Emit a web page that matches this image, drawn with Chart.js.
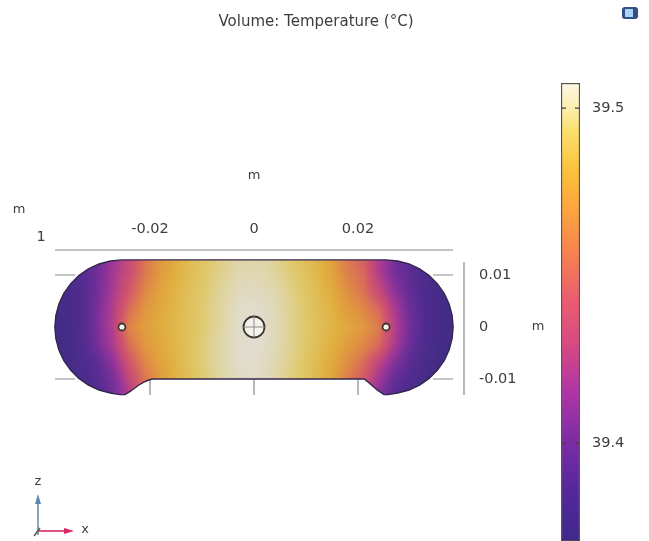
<!DOCTYPE html>
<html>
<head>
<meta charset="utf-8">
<style>
  html, body { margin: 0; padding: 0; background: #fff; }
  #wrap { position: relative; width: 649px; height: 541px; overflow: hidden; }
  canvas { position: absolute; top: 0; filter: blur(0.6px); }
  #fieldChart { left: 0; }
  #barChart { left: 540px; }
</style>
<script src="https://cdn.jsdelivr.net/npm/chart.js@4/dist/chart.umd.min.js"></script>
</head>
<body>
<div id="wrap">
  <canvas id="fieldChart" width="577" height="541"></canvas>
  <canvas id="barChart" width="109" height="562"></canvas>
</div>
<script>
const chartTitle = "Volume: Temperature (°C)";
const axisUnit = "m";
const xTicks = [-0.02, 0, 0.02];
const yTicks = [-0.01, 0, 0.01];
const tempTicks = [39.4, 39.5];

// grid the temperatures were read on, metres
const gridX = [-0.039, -0.036, -0.033, -0.03, -0.027, -0.024, -0.021, -0.018, -0.015, -0.012, -0.009, -0.006, -0.003, 0,
  0.003, 0.006, 0.009, 0.012, 0.015, 0.018, 0.021, 0.024, 0.027, 0.03, 0.033, 0.036, 0.039];
const gridY = [0.014, 0.0105, 0.007, 0.0035, 0, -0.0035, -0.007, -0.0105, -0.014];

// temperature in deg C, one row per gridY
const temps = [
  [39.384, 39.384, 39.388, 39.398, 39.414, 39.432, 39.455, 39.471, 39.481, 39.488, 39.493, 39.497, 39.500, 39.501, 39.499, 39.495, 39.490, 39.484, 39.474, 39.456, 39.445, 39.420, 39.400, 39.390, 39.380, 39.376, 39.374],
  [39.382, 39.382, 39.388, 39.400, 39.418, 39.435, 39.457, 39.472, 39.482, 39.489, 39.494, 39.498, 39.502, 39.503, 39.501, 39.497, 39.492, 39.486, 39.476, 39.460, 39.450, 39.422, 39.402, 39.390, 39.380, 39.376, 39.374],
  [39.378, 39.378, 39.386, 39.400, 39.420, 39.442, 39.463, 39.476, 39.484, 39.490, 39.495, 39.500, 39.504, 39.505, 39.503, 39.499, 39.494, 39.488, 39.480, 39.467, 39.455, 39.432, 39.410, 39.393, 39.382, 39.375, 39.372],
  [39.374, 39.377, 39.386, 39.403, 39.424, 39.452, 39.470, 39.479, 39.485, 39.491, 39.496, 39.501, 39.506, 39.507, 39.505, 39.500, 39.495, 39.489, 39.483, 39.473, 39.464, 39.450, 39.420, 39.397, 39.384, 39.375, 39.372],
  [39.374, 39.376, 39.385, 39.404, 39.425, 39.462, 39.474, 39.480, 39.486, 39.491, 39.496, 39.501, 39.506, 39.5075, 39.505, 39.500, 39.495, 39.490, 39.484, 39.478, 39.471, 39.458, 39.425, 39.400, 39.384, 39.376, 39.372],
  [39.373, 39.376, 39.384, 39.401, 39.421, 39.452, 39.470, 39.479, 39.485, 39.491, 39.497, 39.502, 39.506, 39.5075, 39.505, 39.500, 39.495, 39.489, 39.482, 39.473, 39.464, 39.450, 39.420, 39.396, 39.382, 39.374, 39.372],
  [39.372, 39.376, 39.382, 39.392, 39.410, 39.440, 39.462, 39.476, 39.484, 39.491, 39.497, 39.502, 39.506, 39.507, 39.504, 39.499, 39.494, 39.487, 39.479, 39.466, 39.452, 39.428, 39.405, 39.390, 39.379, 39.374, 39.372],
  [39.372, 39.374, 39.380, 39.388, 39.402, 39.428, 39.455, 39.472, 39.483, 39.490, 39.496, 39.501, 39.505, 39.506, 39.503, 39.498, 39.493, 39.486, 39.476, 39.458, 39.442, 39.414, 39.394, 39.384, 39.376, 39.373, 39.372],
  [39.372, 39.374, 39.378, 39.385, 39.398, 39.420, 39.448, 39.468, 39.481, 39.489, 39.495, 39.500, 39.504, 39.505, 39.502, 39.497, 39.492, 39.484, 39.472, 39.452, 39.434, 39.404, 39.388, 39.380, 39.375, 39.373, 39.372]
];

// boundary of the part, metres
const outlineX = [-0.0254, -0.02764, -0.02981, -0.03185, -0.03369, -0.03528, -0.03657, -0.03752, -0.0381, -0.0383,
  -0.0381, -0.03752, -0.03657, -0.03528, -0.03369, -0.03185, -0.02981, -0.02764, -0.0258, -0.0248, -0.0238, -0.0222, -0.0212, -0.0202, -0.0196, -0.0190,
  0.0206, 0.0212, 0.0222, 0.0238, 0.0250, 0.0258,
  0.02764, 0.02981, 0.03185, 0.03369, 0.03528, 0.03657, 0.03752, 0.0381, 0.0383,
  0.0381, 0.03752, 0.03657, 0.03528, 0.03369, 0.03185, 0.02981, 0.02764, 0.0254, -0.0254];
const outlineY = [0.0129, 0.0127, 0.01212, 0.01117, 0.00988, 0.00829, 0.00645, 0.00441, 0.00224, 0,
  -0.00224, -0.00441, -0.00645, -0.00829, -0.00988, -0.01117, -0.01212, -0.0127, -0.0130, -0.0130, -0.0124, -0.0112, -0.0106, -0.0102, -0.0100, -0.0100,
  -0.0100, -0.0100, -0.0108, -0.0122, -0.0130, -0.0130,
  -0.0127, -0.01212, -0.01117, -0.00988, -0.00829, -0.00645, -0.00441, -0.00224, 0,
  0.00224, 0.00441, 0.00645, 0.00829, 0.00988, 0.01117, 0.01212, 0.0127, 0.0129, 0.0129];

const holeX = [-0.0254, 0, 0.0254];
const holeY = [0, 0, 0];
const holeRadius = [3.5, 10.5, 3.5];

// colour bar stops
const rampTemps = [39.3707, 39.374, 39.386, 39.400, 39.4155, 39.4305, 39.4425, 39.4575, 39.4695, 39.4815, 39.4935, 39.500, 39.5075];
const rampColors = ["#41278c", "#43288f", "#55289c", "#7a2ca5", "#b035a5", "#d94b80", "#ea5c70", "#f7844f", "#fca43e", "#fcc23c", "#fbe06e", "#fbeeae", "#fdf8e8"];

const textColor = "#3d3d3d";
const axisColor = "#8a8a8a";
const fontName = "'DejaVu Sans'";

const hexToRgb = (hex) => [1, 3, 5].map((i) => parseInt(hex.slice(i, i + 2), 16));

const colorForTemp = (t) => {
  let i = 0;
  while (i < rampTemps.length - 2 && t > rampTemps[i + 1]) i++;
  const f = Math.min(1, Math.max(0, (t - rampTemps[i]) / (rampTemps[i + 1] - rampTemps[i])));
  const a = hexToRgb(rampColors[i]);
  const b = hexToRgb(rampColors[i + 1]);
  return a.map((v, k) => Math.round(v + (b[k] - v) * f));
};

// index of the grid interval holding v, list may run either way
const gridSlot = (list, v) => {
  const sign = list[1] > list[0] ? 1 : -1;
  let i = 0;
  while (i < list.length - 2 && sign * v > sign * list[i + 1]) i++;
  const f = Math.min(1, Math.max(0, (v - list[i]) / (list[i + 1] - list[i])));
  return [i, f];
};

const tempAt = (x, y) => {
  const [c, fx] = gridSlot(gridX, x);
  const [r, fy] = gridSlot(gridY, y);
  const top = temps[r][c] * (1 - fx) + temps[r][c + 1] * fx;
  const bot = temps[r + 1][c] * (1 - fx) + temps[r + 1][c + 1] * fx;
  return top * (1 - fy) + bot * fy;
};

const outlinePath = (chart) => {
  const ctx = chart.ctx;
  ctx.beginPath();
  outlineX.forEach((x, i) => {
    const px = chart.scales.x.getPixelForValue(x);
    const py = chart.scales.y.getPixelForValue(outlineY[i]);
    if (i === 0) ctx.moveTo(px, py);
    else ctx.lineTo(px, py);
  });
  ctx.closePath();
};

// paints temps under the outline, the way a surface plot would
const fieldPlugin = {
  id: "field",
  beforeDatasetsDraw(chart) {
    const ctx = chart.ctx;
    const xs = chart.scales.x;
    const ys = chart.scales.y;
    const left = Math.floor(xs.getPixelForValue(gridX[0]));
    const right = Math.ceil(xs.getPixelForValue(gridX[gridX.length - 1]));
    const top = Math.floor(ys.getPixelForValue(gridY[0]));
    const bottom = Math.ceil(ys.getPixelForValue(gridY[gridY.length - 1]));
    const w = right - left;
    const h = bottom - top;
    const off = document.createElement("canvas");
    off.width = w;
    off.height = h;
    const offCtx = off.getContext("2d");
    const img = offCtx.createImageData(w, h);
    for (let j = 0; j < h; j++) {
      const y = ys.getValueForPixel(top + j + 0.5);
      for (let i = 0; i < w; i++) {
        const rgb = colorForTemp(tempAt(xs.getValueForPixel(left + i + 0.5), y));
        const k = (j * w + i) * 4;
        img.data[k] = rgb[0];
        img.data[k + 1] = rgb[1];
        img.data[k + 2] = rgb[2];
        img.data[k + 3] = 255;
      }
    }
    offCtx.putImageData(img, 0, 0);

    ctx.save();
    outlinePath(chart);
    ctx.clip();
    ctx.drawImage(off, left, top);
    // duller than the legend, the plot is lit
    ctx.fillStyle = "rgba(70,70,80,0.15)";
    ctx.fillRect(left, top, w, h);
    ctx.restore();
  },
};

// detached axes: top line, right line, short inner ticks
const framePlugin = {
  id: "frame",
  beforeDraw(chart) {
    const ctx = chart.ctx;
    const area = chart.chartArea;
    const xs = chart.scales.x;
    const ys = chart.scales.y;
    ctx.save();
    ctx.strokeStyle = axisColor;
    ctx.lineWidth = 1.2;
    ctx.beginPath();
    ctx.moveTo(area.left, area.top - 12);
    ctx.lineTo(area.right, area.top - 12);
    ctx.moveTo(area.right + 11, area.top);
    ctx.lineTo(area.right + 11, area.bottom);
    xTicks.forEach((v) => {
      const px = xs.getPixelForValue(v);
      ctx.moveTo(px, area.bottom);
      ctx.lineTo(px, area.bottom - 20);
    });
    yTicks.forEach((v) => {
      const py = ys.getPixelForValue(v);
      ctx.moveTo(area.left, py);
      ctx.lineTo(area.left + 20, py);
      ctx.moveTo(area.right, py);
      ctx.lineTo(area.right - 20, py);
    });
    ctx.stroke();
    ctx.restore();
  },
  afterDraw(chart) {
    const ctx = chart.ctx;
    const area = chart.chartArea;
    ctx.save();
    ctx.fillStyle = textColor;
    ctx.font = "13px " + fontName;
    ctx.textAlign = "center";
    ctx.textBaseline = "middle";
    ctx.fillText(axisUnit, 19, 210);
    ctx.fillText(axisUnit, area.right + 85, chart.scales.y.getPixelForValue(0));
    ctx.fillText("z", 38, 482);
    ctx.fillText("x", 85, 530);
    ctx.font = "14.5px " + fontName;
    ctx.fillText("1", 41, 237);

    // orientation triad
    ctx.lineWidth = 1.6;
    ctx.strokeStyle = "#6f8db0";
    ctx.fillStyle = "#5f86b5";
    ctx.beginPath();
    ctx.moveTo(38, 535);
    ctx.lineTo(38, 500);
    ctx.stroke();
    ctx.beginPath();
    ctx.moveTo(38, 494);
    ctx.lineTo(35, 504);
    ctx.lineTo(41, 504);
    ctx.closePath();
    ctx.fill();
    ctx.strokeStyle = "#d8265f";
    ctx.fillStyle = "#d8265f";
    ctx.beginPath();
    ctx.moveTo(37, 531);
    ctx.lineTo(66, 531);
    ctx.stroke();
    ctx.beginPath();
    ctx.moveTo(74, 531);
    ctx.lineTo(64, 528);
    ctx.lineTo(64, 534);
    ctx.closePath();
    ctx.fill();
    ctx.strokeStyle = "#55634a";
    ctx.beginPath();
    ctx.moveTo(34, 536);
    ctx.lineTo(40, 528);
    ctx.stroke();
    ctx.restore();
  },
};

new Chart(document.getElementById("fieldChart"), {
  type: "scatter",
  data: {
    datasets: [
      {
        data: outlineX.map((x, i) => ({ x: x, y: outlineY[i] })),
        showLine: true,
        borderColor: "#33264f",
        borderWidth: 1.4,
        pointRadius: 0,
        clip: false,
      },
      {
        // first listed draws last, the cross has to sit on the hole
        data: [{ x: holeX[1], y: holeY[1] }],
        pointStyle: "cross",
        pointRadius: holeRadius[1],
        pointBorderColor: "#8d8d8d",
        pointBorderWidth: 1,
        clip: false,
      },
      {
        data: holeX.map((x, i) => ({ x: x, y: holeY[i] })),
        pointRadius: holeRadius,
        pointBackgroundColor: "#f4f2ea",
        pointBorderColor: "#3b3530",
        pointBorderWidth: 1.8,
        clip: false,
      },
    ],
  },
  options: {
    responsive: false,
    animation: false,
    devicePixelRatio: 1,
    layout: { autoPadding: false, padding: { left: 55, bottom: 146 } },
    plugins: {
      legend: { display: false },
      tooltip: { enabled: false },
      title: {
        display: true,
        text: chartTitle,
        color: textColor,
        padding: { top: 13, bottom: 0 },
        font: { family: fontName, size: 15, weight: "normal" },
      },
    },
    scales: {
      x: {
        type: "linear",
        position: "top",
        min: -0.03827,
        max: 0.03827,
        grid: { display: false, drawTicks: false },
        border: { display: false },
        afterBuildTicks: (scale) => { scale.ticks = xTicks.map((v) => ({ value: v })); },
        afterFit: (scale) => { scale.height = 231; },
        ticks: {
          autoSkip: false,
          maxRotation: 0,
          padding: 24,
          color: textColor,
          font: { family: fontName, size: 14.5 },
          callback: (v) => String(v),
        },
        title: {
          display: true,
          text: axisUnit,
          color: textColor,
          padding: { top: 137, bottom: 0 },
          font: { family: fontName, size: 13 },
        },
      },
      y: {
        type: "linear",
        position: "right",
        min: -0.01308,
        max: 0.0125,
        grid: { display: false, drawTicks: false },
        border: { display: false },
        afterBuildTicks: (scale) => { scale.ticks = yTicks.map((v) => ({ value: v })); },
        afterFit: (scale) => { scale.width = 124; },
        ticks: {
          padding: 26,
          color: textColor,
          font: { family: fontName, size: 14.5 },
          callback: (v) => String(v),
        },
      },
    },
  },
  plugins: [fieldPlugin, framePlugin],
});

// small tick stubs on the colour bar and the view icon in the corner
const barMarksPlugin = {
  id: "barMarks",
  afterDraw(chart) {
    const ctx = chart.ctx;
    const area = chart.chartArea;
    ctx.save();
    ctx.strokeStyle = "#4a4038";
    ctx.lineWidth = 1.4;
    ctx.beginPath();
    tempTicks.forEach((v) => {
      const py = chart.scales.y.getPixelForValue(v);
      ctx.moveTo(area.left, py);
      ctx.lineTo(area.left + 5, py);
      ctx.moveTo(area.right, py);
      ctx.lineTo(area.right - 5, py);
    });
    ctx.stroke();

    ctx.fillStyle = "#2f4f86";
    ctx.beginPath();
    ctx.roundRect(82, 7, 16, 12, 3);
    ctx.fill();
    ctx.fillStyle = "#a9d3f0";
    ctx.fillRect(85, 9, 8, 8);
    ctx.restore();
  },
};

new Chart(document.getElementById("barChart"), {
  type: "bar",
  data: {
    labels: [""],
    datasets: [
      {
        data: [[rampTemps[0], rampTemps[rampTemps.length - 1]]],
        barPercentage: 1,
        categoryPercentage: 1,
        borderColor: "#5a5348",
        borderWidth: 1.5,
        borderSkipped: false,
        backgroundColor: (context) => {
          const chart = context.chart;
          if (!chart.chartArea) return rampColors[0];
          const ys = chart.scales.y;
          const grad = chart.ctx.createLinearGradient(0, chart.chartArea.bottom, 0, chart.chartArea.top);
          const span = ys.getPixelForValue(rampTemps[0]) - ys.getPixelForValue(rampTemps[rampTemps.length - 1]);
          rampTemps.forEach((t, i) => {
            grad.addColorStop((ys.getPixelForValue(rampTemps[0]) - ys.getPixelForValue(t)) / span, rampColors[i]);
          });
          return grad;
        },
      },
    ],
  },
  options: {
    responsive: false,
    animation: false,
    devicePixelRatio: 1,
    layout: { autoPadding: false, padding: { left: 21, top: 83, bottom: 0 } },
    plugins: { legend: { display: false }, tooltip: { enabled: false } },
    scales: {
      x: { display: false },
      y: {
        position: "right",
        min: rampTemps[0],
        max: rampTemps[rampTemps.length - 1],
        grid: { display: false, drawTicks: false },
        border: { display: false },
        afterBuildTicks: (scale) => { scale.ticks = tempTicks.map((v) => ({ value: v })); },
        afterFit: (scale) => { scale.width = 69; },
        ticks: {
          padding: 12,
          color: textColor,
          font: { family: fontName, size: 14.5 },
          callback: (v) => v.toFixed(1),
        },
      },
    },
  },
  plugins: [barMarksPlugin],
});
</script>
</body>
</html>
